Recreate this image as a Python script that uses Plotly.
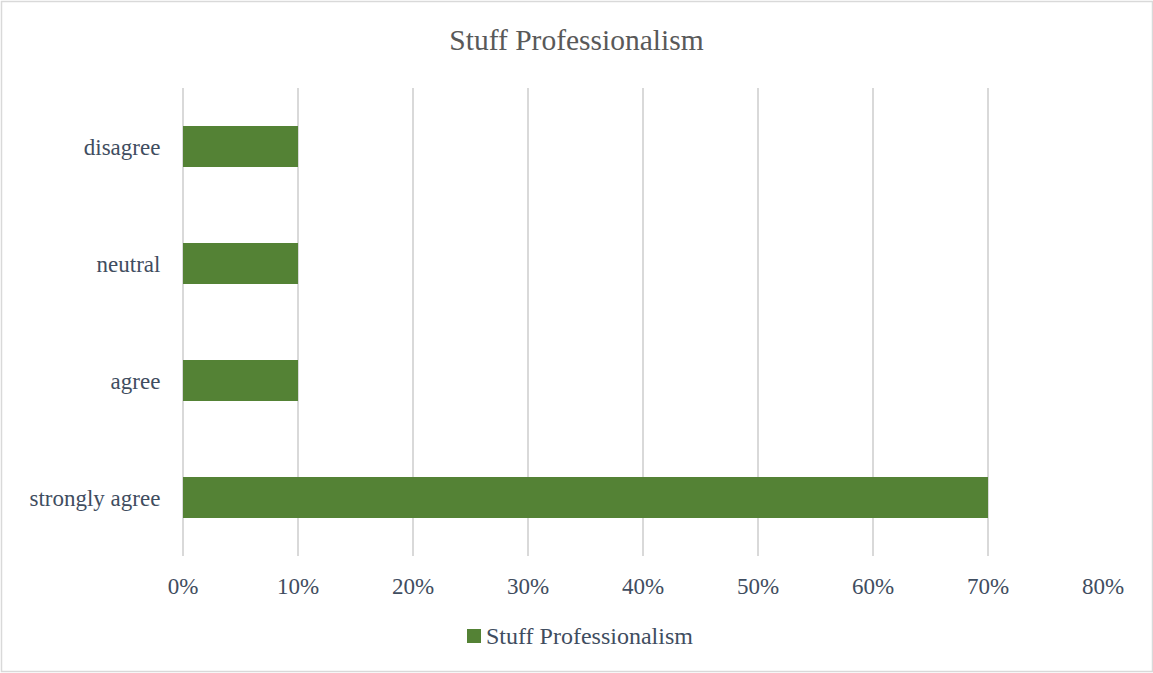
import plotly.graph_objects as go

# Survey responses, bottom to top
categories = ["strongly agree", "agree", "neutral", "disagree"]
shares = [70, 10, 10, 10]
tick_vals = [0, 10, 20, 30, 40, 50, 60, 70, 80]
tick_text = ["0%", "10%", "20%", "30%", "40%", "50%", "60%", "70%", "80%"]
series_name = "Stuff Professionalism"

GREEN = "#548235"
TEXT = "#3F4D60"
TITLE = "#595959"
GRID = "#D9D9D9"
FONT = "Liberation Serif, Times New Roman, serif"

# plot-area geometry in pixels (used to place the frame and legend)
W, H = 1153, 673
L, R, T, B = 183, 50, 88, 117
PW, PH = W - L - R, H - T - B


def px_x(x):
    return (x - L) / PW


def px_y(y):
    return (H - B - y) / PH


fig = go.Figure(
    go.Bar(
        x=shares,
        y=categories,
        orientation="h",
        marker=dict(color=GREEN, line=dict(width=0)),
        name=series_name,
        showlegend=False,
    )
)

fig.update_layout(
    width=W,
    height=H,
    margin=dict(l=L, r=R, t=T, b=B, pad=0),
    paper_bgcolor="white",
    plot_bgcolor="white",
    font=dict(family=FONT, size=23, color=TEXT),
    bargap=0.65,
    title=dict(
        text=series_name,
        x=0.5,
        xref="container",
        xanchor="center",
        y=1 - 39.5 / H,
        yref="container",
        yanchor="middle",
        font=dict(family=FONT, size=29.5, color=TITLE),
    ),
    xaxis=dict(
        range=[0, 80],
        tickvals=tick_vals,
        ticktext=tick_text,
        showgrid=True,
        gridcolor=GRID,
        gridwidth=1.5,
        zeroline=True,
        zerolinecolor=GRID,
        zerolinewidth=1.5,
        showline=False,
        ticks="outside",
        ticklen=9,
        tickcolor="rgba(0,0,0,0)",
        fixedrange=True,
    ),
    yaxis=dict(
        categoryorder="array",
        categoryarray=categories,
        showgrid=False,
        zeroline=False,
        showline=False,
        ticks="outside",
        ticklen=17,
        tickcolor="rgba(0,0,0,0)",
        fixedrange=True,
    ),
    shapes=[
        # outer chart frame
        dict(
            type="rect",
            xref="paper",
            yref="paper",
            x0=px_x(1.5),
            x1=px_x(1152.5),
            y0=px_y(671.5),
            y1=px_y(1.5),
            line=dict(color=GRID, width=1.5),
            fillcolor="rgba(0,0,0,0)",
            layer="below",
        ),
        # legend swatch
        dict(
            type="rect",
            xref="paper",
            yref="paper",
            x0=px_x(467),
            x1=px_x(481),
            y0=px_y(643),
            y1=px_y(629),
            line=dict(width=0),
            fillcolor=GREEN,
        ),
    ],
    annotations=[
        dict(
            text=series_name,
            xref="paper",
            yref="paper",
            x=px_x(484),
            y=px_y(636),
            xanchor="left",
            yanchor="middle",
            showarrow=False,
            font=dict(family=FONT, size=24, color=TEXT),
        )
    ],
)

fig.write_html("out.html")
